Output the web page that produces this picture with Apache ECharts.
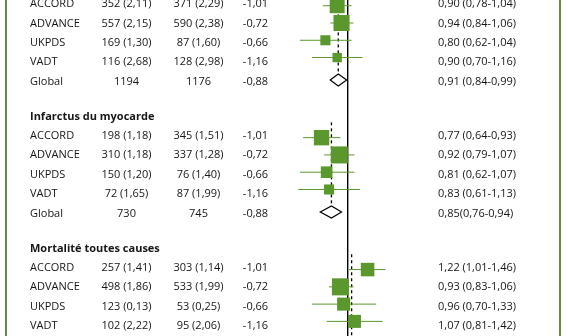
<!DOCTYPE html>
<html><head><meta charset="utf-8">
<script src="https://cdn.jsdelivr.net/npm/echarts@6/dist/echarts.min.js"></script>
<style>html,body{margin:0;padding:0;background:#fff}#c{width:567px;height:336px}</style>
</head><body><div id="c"></div>
<script>
// ---------- data ----------
const studies = ['ACCORD', 'ADVANCE', 'UKPDS', 'VADT'];
const sectionTitles = ['', 'Infarctus du myocarde', 'Mortalité toutes causes'];
const intensive = [
  ['352 (2,11)', '557 (2,15)', '169 (1,30)', '116 (2,68)'],
  ['198 (1,18)', '310 (1,18)', '150 (1,20)', '72 (1,65)'],
  ['257 (1,41)', '498 (1,86)', '123 (0,13)', '102 (2,22)']
];
const intensiveTotal = ['1194', '730', null];
const standard = [
  ['371 (2,29)', '590 (2,38)', '87 (1,60)', '128 (2,98)'],
  ['345 (1,51)', '337 (1,28)', '76 (1,40)', '87 (1,99)'],
  ['303 (1,14)', '533 (1,99)', '53 (0,25)', '95 (2,06)']
];
const standardTotal = ['1176', '745', null];
const hba1cDiff = ['-1,01', '-0,72', '-0,66', '-1,16'];
const hba1cDiffGlobal = '-0,88';
const orValue = [[0.90, 0.94, 0.80, 0.90], [0.77, 0.92, 0.81, 0.83], [1.22, 0.93, 0.96, 1.07]];
const orLow   = [[0.78, 0.84, 0.62, 0.70], [0.64, 0.79, 0.62, 0.61], [1.01, 0.83, 0.70, 0.81]];
const orHigh  = [[1.04, 1.06, 1.04, 1.16], [0.93, 1.07, 1.07, 1.13], [1.46, 1.06, 1.33, 1.42]];
const weight  = [[33, 38, 15, 13], [35, 43, 20, 15], [27, 43, 25, 25]];
const globalOR   = [0.91, 0.85, 1.04];
const globalLow  = [0.84, 0.76, null];
const globalHigh = [0.99, 0.94, null];
const orLabels = [
  ['0,90 (0,78-1,04)', '0,94 (0,84-1,06)', '0,80 (0,62-1,04)', '0,90 (0,70-1,16)'],
  ['0,77 (0,64-0,93)', '0,92 (0,79-1,07)', '0,81 (0,62-1,07)', '0,83 (0,61-1,13)'],
  ['1,22 (1,01-1,46)', '0,93 (0,83-1,06)', '0,96 (0,70-1,33)', '1,07 (0,81-1,42)']
];
const globalLabels = ['0,91 (0,84-0,99)', '0,85(0,76-0,94)', null];

// ---------- layout ----------
const W = 567, H = 336;
const ROW_H = 19.4, ROW0_Y = 4;          // pixel y of the first visible row
const sectionStart = [0, 6.8, 13.6];     // row index of first study in each section
const MARK_OFF = 0.09, MARK_STEP = 0.89, DIA_OFF = 3.92; // forest panel row layout
const PX_PER_LN = 100, ONE_X = 347.7;    // forest-plot log scale
const GREEN = '#5a972d', BORDER = '#5f8c3e', INK = '#161616';
const FONT = '11px "Open Sans"', FONT_B = 'bold 11px "Open Sans"';
const COL = { name: 30, c2: 126.5, c3: 198.5, c4: 255.5, or: 438 };

// text rows
const textRows = [];
sectionTitles.forEach((t, s) => {
  const st = sectionStart[s];
  if (t) textRows.push({ row: st - 1, title: t });
  studies.forEach((n, i) => textRows.push({
    row: st + i, name: n, c2: intensive[s][i], c3: standard[s][i], c4: hba1cDiff[i], or: orLabels[s][i]
  }));
  if (intensiveTotal[s] !== null) textRows.push({
    row: st + 4, name: 'Global', c2: intensiveTotal[s], c3: standardTotal[s], c4: hba1cDiffGlobal, or: globalLabels[s]
  });
});

const studyMarks = [];
orValue.forEach((arr, s) => arr.forEach((v, i) =>
  studyMarks.push([v, orLow[s][i], orHigh[s][i], sectionStart[s] + MARK_OFF + i * MARK_STEP, weight[s][i]])));
const globalMarks = [];
globalOR.forEach((v, s) => { if (globalLow[s] !== null) globalMarks.push([v, globalLow[s], globalHigh[s], sectionStart[s] + DIA_OFF]); });
const dashLines = globalOR.map((v, s) => [v, sectionStart[s] - 0.7, sectionStart[s] + DIA_OFF]);

const chart = echarts.init(document.getElementById('c'), null, { renderer: 'canvas' });
const xmin = Math.exp(-ONE_X / PX_PER_LN), xmax = Math.exp((W - ONE_X) / PX_PER_LN);
const DIA_H = 6;

chart.setOption({
  animation: false,
  backgroundColor: '#fff',
  grid: { left: 0, right: 0, top: 0, bottom: 0 },
  xAxis: { type: 'log', logBase: Math.E, min: xmin, max: xmax, show: false, splitLine: { show: false } },
  yAxis: { type: 'value', inverse: true, min: -ROW0_Y / ROW_H, max: (H - ROW0_Y) / ROW_H, show: false, splitLine: { show: false } },
  graphic: [
    { type: 'rect', shape: { x: 5, y: 0, width: 2, height: H }, style: { fill: BORDER }, z: 10 },
    { type: 'rect', shape: { x: 559, y: 0, width: 2, height: H }, style: { fill: BORDER }, z: 10 }
  ],
  series: [
    { // reference line at OR = 1
      type: 'custom', z: 1, data: [[1]], clip: true,
      renderItem(params, api) {
        const x = api.coord([api.value(0), 0])[0];
        const cs = params.coordSys;
        return { type: 'line', shape: { x1: x, y1: cs.y, x2: x, y2: cs.y + cs.height }, style: { stroke: '#000', lineWidth: 1.4 } };
      }
    },
    { // dashed pooled-estimate lines
      type: 'custom', z: 2, data: dashLines, clip: true,
      renderItem(params, api) {
        const a = api.coord([api.value(0), api.value(1)]);
        const b = api.coord([api.value(0), api.value(2)]);
        return { type: 'line', shape: { x1: a[0], y1: a[1], x2: b[0], y2: b[1] - DIA_H }, style: { stroke: '#000', lineWidth: 1.3, lineDash: [3, 3] } };
      }
    },
    { // study estimates
      type: 'custom', z: 3, data: studyMarks, clip: true,
      renderItem(params, api) {
        const c = api.coord([api.value(0), api.value(3)]);
        const lo = api.coord([api.value(1), api.value(3)]);
        const hi = api.coord([api.value(2), api.value(3)]);
        const sz = 2.6 * Math.sqrt(api.value(4));
        return { type: 'group', children: [
          { type: 'line', shape: { x1: lo[0], y1: c[1], x2: hi[0], y2: c[1] }, style: { stroke: GREEN, lineWidth: 1 } },
          { type: 'rect', shape: { x: c[0] - sz / 2, y: c[1] - sz / 2, width: sz, height: sz }, style: { fill: GREEN } }
        ] };
      }
    },
    { // pooled diamonds
      type: 'custom', z: 4, data: globalMarks, clip: true,
      renderItem(params, api) {
        const c = api.coord([api.value(0), api.value(3)]);
        const lo = api.coord([api.value(1), api.value(3)]);
        const hi = api.coord([api.value(2), api.value(3)]);
        return { type: 'polygon', shape: { points: [[lo[0], c[1]], [c[0], c[1] - DIA_H], [hi[0], c[1]], [c[0], c[1] + DIA_H]] },
          style: { fill: '#fff', stroke: '#000', lineWidth: 1.2 } };
      }
    },
    { // table text
      type: 'custom', z: 5, data: textRows.map(r => [r.row]), clip: false,
      renderItem(params, api) {
        const r = textRows[params.dataIndex];
        const y = api.coord([1, api.value(0)])[1];
        const t = (txt, x, align, font) => ({ type: 'text', style: { text: txt, x, y, align, verticalAlign: 'middle', font: font || FONT, fill: INK } });
        if (r.title) return { type: 'group', children: [t(r.title, COL.name, 'left', FONT_B)] };
        return { type: 'group', children: [
          t(r.name, COL.name, 'left'), t(r.c2, COL.c2, 'center'), t(r.c3, COL.c3, 'center'),
          t(r.c4, COL.c4, 'center'), t(r.or, COL.or, 'left')
        ] };
      }
    }
  ]
});
</script></body></html>
